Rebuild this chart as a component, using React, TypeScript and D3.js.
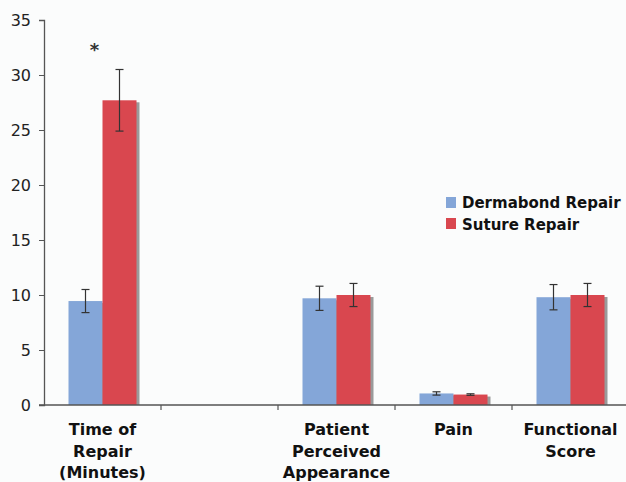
import React, { useEffect, useRef } from 'react';
import * as d3 from 'd3';

const categories = ['Time of|Repair|(Minutes)', '', 'Patient|Perceived|Appearance', 'Pain', 'Functional|Score'];
const seriesNames = ['Dermabond Repair', 'Suture Repair'];
const dermabond = [9.45, null, 9.7, 1.05, 9.8];
const dermabondErr = [1.05, null, 1.1, 0.15, 1.15];
const suture = [27.7, null, 10.0, 0.95, 10.0];
const sutureErr = [2.8, null, 1.05, 0.07, 1.05];
const yTicks = [0, 5, 10, 15, 20, 25, 30, 35];
const colors = ['#84a6d8', '#d9474f'];

const App: React.FC = () => {
  const svgRef = useRef<SVGSVGElement | null>(null);
  const width = 626;
  const height = 482;

  useEffect(() => {
    if (!svgRef.current) return;
    const svg = d3.select(svgRef.current);
    svg.selectAll('*').remove();

    const margin = { top: 20, right: -3, bottom: 77, left: 44 };
    const font = 'Verdana, "DejaVu Sans", sans-serif';

    svg.append('rect').attr('width', width).attr('height', height).attr('fill', '#fbfcfc');

    const x = d3
      .scaleBand<number>()
      .domain(categories.map((_, i) => i))
      .range([margin.left, width - margin.right]);

    const inner = d3
      .scaleBand<number>()
      .domain([0, 1])
      .range([0, 68]);

    const y = d3
      .scaleLinear()
      .domain([0, 35])
      .range([height - margin.bottom, margin.top]);

    const series = [
      { values: dermabond, errs: dermabondErr },
      { values: suture, errs: sutureErr },
    ];

    const barX = (ci: number, si: number) => x(ci)! + (x.bandwidth() - 68) / 2 + inner(si)!;

    // bar shadows first, then bars on top
    series.forEach((s, si) => {
      const g = svg.append('g');
      s.values.forEach((v, ci) => {
        if (v === null) return;
        g.append('rect')
          .attr('x', barX(ci, si) + 3)
          .attr('y', y(v) + 2)
          .attr('width', inner.bandwidth())
          .attr('height', y(0) - y(v) - 2)
          .attr('fill', '#9a9a9a');
      });
    });
    series.forEach((s, si) => {
      const g = svg.append('g');
      s.values.forEach((v, ci) => {
        if (v === null) return;
        g.append('rect')
          .attr('x', barX(ci, si))
          .attr('y', y(v))
          .attr('width', inner.bandwidth())
          .attr('height', y(0) - y(v))
          .attr('fill', colors[si]);
      });
    });

    // error bars
    series.forEach((s, si) => {
      s.values.forEach((v, ci) => {
        const e = s.errs[ci];
        if (v === null || e === null) return;
        const cx = barX(ci, si) + inner.bandwidth() / 2;
        const stroke = '#333';
        svg.append('line').attr('x1', cx).attr('x2', cx).attr('y1', y(v + e)).attr('y2', y(v - e))
          .attr('stroke', stroke).attr('stroke-width', 1.2);
        [v + e, v - e].forEach((t) => {
          svg.append('line').attr('x1', cx - 4).attr('x2', cx + 4).attr('y1', y(t)).attr('y2', y(t))
            .attr('stroke', stroke).attr('stroke-width', 1.2);
        });
      });
    });

    // y axis
    const yAxis = svg
      .append('g')
      .attr('transform', `translate(${margin.left},0)`)
      .call(d3.axisLeft(y).tickValues(yTicks).tickSize(5).tickPadding(8));
    yAxis.select('.domain').attr('stroke', '#555').attr('stroke-width', 1.3);
    yAxis.selectAll('line').attr('stroke', '#555');
    yAxis.selectAll('text').style('font-family', font).style('font-size', '16px').style('fill', '#222');

    // x axis
    const xAxisG = svg.append('g');
    xAxisG.append('line')
      .attr('x1', margin.left - 5).attr('x2', width)
      .attr('y1', y(0)).attr('y2', y(0))
      .attr('stroke', '#555').attr('stroke-width', 1.3);
    categories.forEach((_, i) => {
      const tx = x(i)!;
      if (i > 0) {
        xAxisG.append('line').attr('x1', tx).attr('x2', tx).attr('y1', y(0)).attr('y2', y(0) + 5)
          .attr('stroke', '#555').attr('stroke-width', 1.2);
      }
    });

    // category labels
    categories.forEach((c, i) => {
      if (!c) return;
      const lines = c.split('|');
      const cx = x(i)! + x.bandwidth() / 2;
      const t = svg.append('text')
        .attr('x', cx)
        .attr('y', 435)
        .attr('text-anchor', 'middle')
        .style('font-family', font)
        .style('font-size', '16px')
        .style('font-weight', 'bold')
        .style('fill', '#111');
      lines.forEach((l, li) => {
        t.append('tspan').attr('x', cx).attr('dy', li === 0 ? 0 : 21.5).text(l);
      });
    });

    // significance asterisk
    svg.append('text')
      .attr('x', barX(0, 0) + inner.bandwidth() / 2 + 9)
      .attr('y', 56)
      .attr('text-anchor', 'middle')
      .style('font-family', font)
      .style('font-size', '18px')
      .style('font-weight', 'bold')
      .style('fill', '#333')
      .text('*');

    // legend
    const legend = svg.append('g').attr('transform', 'translate(446,197)');
    seriesNames.forEach((name, i) => {
      legend.append('rect').attr('x', 0).attr('y', i * 21).attr('width', 10).attr('height', 11).attr('fill', colors[i]);
      legend.append('text')
        .attr('x', 16)
        .attr('y', i * 22 + 11)
        .style('font-family', font)
        .style('font-size', '15px')
        .style('font-weight', 'bold')
        .style('fill', '#111')
        .text(name);
    });
  }, []);

  return (
    <svg
      ref={svgRef}
      width={width}
      height={height}
      style={{ display: 'block', position: 'absolute', left: 0, top: 0 }}
    ></svg>
  );
};

export default App;
